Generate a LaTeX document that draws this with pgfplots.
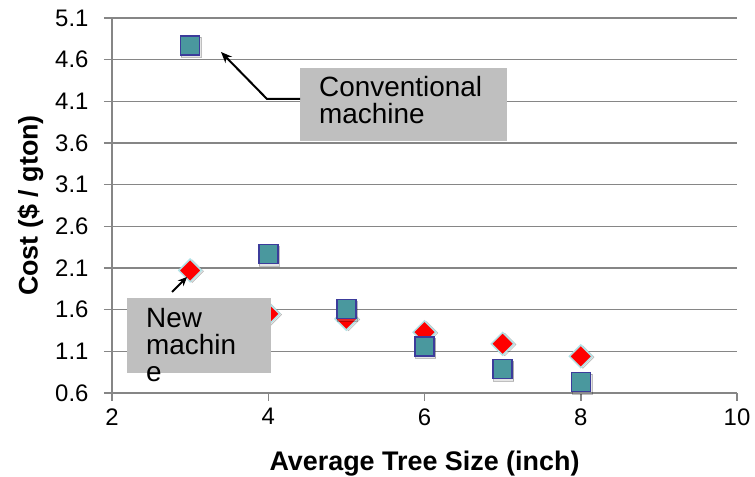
\documentclass[border=0pt]{standalone}
\usepackage{fontspec}
\setmainfont{Liberation Sans}
\usepackage{pgfplots}
\pgfplotsset{compat=1.18}
\usetikzlibrary{arrows.meta}
\definecolor{gridgray}{RGB}{134,134,134}
\definecolor{tealfill}{RGB}{74,152,158}
\definecolor{navyedge}{RGB}{60,60,155}
\definecolor{cyanedge}{RGB}{178,226,230}
\definecolor{boxgray}{RGB}{191,191,191}
\definecolor{shadowgray}{RGB}{150,150,150}

\pgfplotstableread{
x y
3 4.77
4 2.27
5 1.61
6 1.16
7 0.89
8 0.73
}\conventional

\pgfplotstableread{
x y
3 2.07
4 1.55
5 1.49
6 1.33
7 1.19
8 1.04
}\newmachine

\begin{document}
\begin{tikzpicture}[x=1bp,y=1bp]
\useasboundingbox (-112,-84) rectangle (643,393);
\begin{axis}[
  at={(0,0)}, anchor=south west,
  scale only axis, width=625bp, height=375bp,
  xmin=2, xmax=10, ymin=0.6, ymax=5.1,
  axis x line*=bottom, axis y line*=left,
  axis line style={gridgray, line width=1.5bp},
  xtick={2,4,6,8,10},
  ytick={0.6,1.1,1.6,2.1,2.6,3.1,3.6,4.1,4.6,5.1},
  yticklabel style={/pgf/number format/fixed, /pgf/number format/fixed zerofill, /pgf/number format/precision=1, xshift=-12bp},
  /pgf/number format/assume math mode=true,
  tick align=outside,
  major tick length=8bp,
  tick style={gridgray, line width=1.5bp},
  ymajorgrids,
  grid style={gridgray, line width=1.5bp},
  ticklabel style={font=\fontsize{24}{28}\selectfont, text=black},
  xticklabel style={yshift=-4bp},
  xlabel={\bfseries Average Tree Size (inch)},
  ylabel={\bfseries Cost (\$ / gton)},
  label style={font=\fontsize{27}{30}\selectfont},
  xlabel style={at={(axis description cs:0.5,0)}, anchor=base, yshift=-77bp},
  ylabel style={at={(axis description cs:-0.1304,0.5)}, anchor=center},
  clip=false,
]
% shadows
\addplot[only marks, mark=square*, mark size=8bp, mark options={rotate=45, draw=none, fill=shadowgray, opacity=0.25, xshift=1bp, yshift=-2bp}] table {\newmachine};
\addplot[only marks, mark=square*, mark size=8bp, mark options={rotate=45, draw=cyanedge, line width=1.5bp, fill=red}] table {\newmachine};
\addplot[only marks, mark=square*, mark size=10bp, mark options={draw=none, fill=shadowgray, opacity=0.25, xshift=1bp, yshift=-2bp}] table {\conventional};
\addplot[only marks, mark=square*, mark size=9.5bp, mark options={draw=navyedge, line width=1.5bp, fill=tealfill}] table {\conventional};
\end{axis}
% annotation: conventional machine
\fill[boxgray] (188,325) rectangle (395,252);
\node[anchor=base west, inner sep=0pt, font=\fontsize{28}{28}\selectfont] at (207,296) {Conventional};
\node[anchor=base west, inner sep=0pt, font=\fontsize{28}{28}\selectfont] at (207,269) {machine};
\draw[black, line width=2bp, -{Stealth[length=11bp, width=9bp]}] (188,294) -- (155,294) -- (109,341);
% annotation: new machine
\fill[boxgray] (15,95) rectangle (159,20);
\node[anchor=base west, inner sep=0pt, font=\fontsize{28}{28}\selectfont] at (34,65) {New};
\node[anchor=base west, inner sep=0pt, font=\fontsize{28}{28}\selectfont] at (34,38) {machin};
\node[anchor=base west, inner sep=0pt, font=\fontsize{28}{28}\selectfont] at (34,11) {e};
\draw[black, line width=2bp, -{Stealth[length=9bp, width=8bp]}] (60,101) -- (75,116);
\end{tikzpicture}
\end{document}
